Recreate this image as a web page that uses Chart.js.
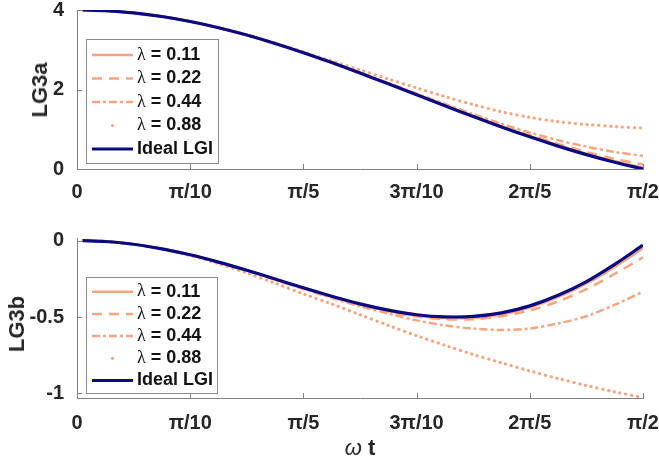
<!DOCTYPE html>
<html>
<head>
<meta charset="utf-8">
<script src="https://cdn.jsdelivr.net/npm/chart.js@4.4.1/dist/chart.umd.min.js"></script>
<style>
  html, body { margin: 0; padding: 0; background: #fff; }
  #wrap { position: relative; width: 659px; height: 463px; overflow: hidden;
          font-family: "Liberation Sans", Arial, Helvetica, sans-serif; color: #262626; }
  canvas { position: absolute; left: 0; }
  #cA { top: 0; }
  #cB { top: 215px; }
  .lab { position: absolute; white-space: nowrap; font-weight: bold; font-size: 22px; line-height: 1; }
  .rot { transform: translate(-50%, -50%) rotate(-90deg); }
</style>
</head>
<body>
<div id="wrap">
  <canvas id="cA" width="659" height="215"></canvas>
  <canvas id="cB" width="659" height="248"></canvas>
  <div class="lab rot" style="left:40px; top:90px;">LG3a</div>
  <div class="lab rot" style="left:17px; top:324px;">LG3b</div>
  <div class="lab" style="left:360px; top:448px; transform:translate(-50%,-50%);"><span style="font-weight:normal; font-style:italic;">ω</span> t</div>
</div>
<script>
// ωt sample positions, in units of π
const wt = [0.005, 0.025, 0.05, 0.075, 0.1, 0.125, 0.15, 0.175, 0.2, 0.225, 0.25,
            0.275, 0.3, 0.325, 0.35, 0.375, 0.4, 0.425, 0.45, 0.475, 0.5];

const xTickValues = [0, 0.1, 0.2, 0.3, 0.4, 0.5];
const xTickLabels = ['0', 'π/10', 'π/5', '3π/10', '2π/5', 'π/2'];
const lg3aTicks = [0, 2, 4];
const lg3bTicks = [-1, -0.5, 0];

const lambdas = ['0.11', '0.22', '0.44', '0.88'];

// LG3a
const lg3a_l011  = [4.000, 3.982, 3.926, 3.836, 3.711, 3.555, 3.370, 3.159, 2.927, 2.677, 2.414,
                    2.148, 1.877, 1.603, 1.335, 1.076, 0.829, 0.598, 0.386, 0.196, 0.030];
const lg3a_l022  = [4.000, 3.982, 3.926, 3.836, 3.711, 3.555, 3.370, 3.159, 2.927, 2.677, 2.419,
                    2.153, 1.882, 1.613, 1.350, 1.093, 0.854, 0.631, 0.427, 0.254, 0.110];
const lg3a_l044  = [4.000, 3.982, 3.926, 3.836, 3.711, 3.555, 3.370, 3.159, 2.932, 2.687, 2.429,
                    2.163, 1.897, 1.636, 1.380, 1.138, 0.919, 0.726, 0.562, 0.429, 0.330];
const lg3a_l088  = [4.000, 3.982, 3.927, 3.837, 3.713, 3.558, 3.375, 3.167, 2.945, 2.715, 2.490,
                    2.262, 2.040, 1.822, 1.620, 1.440, 1.300, 1.190, 1.120, 1.068, 1.030];
const lg3a_ideal = [4.000, 3.982, 3.926, 3.836, 3.711, 3.555, 3.370, 3.159, 2.927, 2.677, 2.414,
                    2.143, 1.867, 1.591, 1.320, 1.058, 0.809, 0.576, 0.362, 0.169, 0.000];

// LG3b
const lg3b_l011  = [0.000, -0.006, -0.024, -0.054, -0.093, -0.141, -0.194, -0.253, -0.312, -0.368, -0.419,
                    -0.461, -0.492, -0.507, -0.505, -0.483, -0.438, -0.370, -0.282, -0.172, -0.050];
const lg3b_l022  = [0.000, -0.006, -0.024, -0.054, -0.094, -0.142, -0.196, -0.254, -0.314, -0.370, -0.422,
                    -0.465, -0.497, -0.514, -0.514, -0.495, -0.457, -0.398, -0.318, -0.218, -0.110];
const lg3b_l044  = [0.000, -0.006, -0.024, -0.055, -0.095, -0.143, -0.198, -0.257, -0.317, -0.375, -0.430,
                    -0.477, -0.522, -0.555, -0.576, -0.585, -0.575, -0.542, -0.495, -0.420, -0.335];
const lg3b_l088  = [0.000, -0.006, -0.025, -0.056, -0.098, -0.151, -0.212, -0.279, -0.349, -0.415, -0.485,
                    -0.555, -0.622, -0.685, -0.745, -0.800, -0.853, -0.903, -0.948, -0.990, -1.027];
const lg3b_ideal = [0.000, -0.006, -0.024, -0.054, -0.093, -0.141, -0.194, -0.251, -0.309, -0.364, -0.414,
                    -0.455, -0.485, -0.499, -0.496, -0.473, -0.427, -0.358, -0.268, -0.155, -0.030];

const SALMON = '#F4A582';
const NAVY = '#0A0A80';
const SANS = '"Liberation Sans", Arial, Helvetica, sans-serif';
const INK = '#262626';

const lineStyles = [
  { dash: [],            cap: 'butt',  width: 2.5 },   // solid
  { dash: [10, 7],       cap: 'butt',  width: 2.5 },   // dashed
  { dash: [8, 3, 3, 3],  cap: 'butt',  width: 2.5 },   // dash-dot
  { dash: [0.1, 5.8],    cap: 'round', width: 3.2 }    // dotted
];

function series(label, ys, color, width, style, order) {
  return {
    label,
    data: wt.map((x, i) => ({ x, y: ys[i] })),
    borderColor: color,
    borderWidth: width,
    borderDash: style.dash,
    borderCapStyle: style.cap,
    pointRadius: 0,
    pointHoverRadius: 0,
    fill: false,
    tension: 0.3,
    order
  };
}

function buildDatasets(l011, l022, l044, l088, ideal) {
  const sets = [l011, l022, l044, l088];
  const out = sets.map((ys, i) => series('λ = ' + lambdas[i], ys, SALMON, lineStyles[i].width, lineStyles[i], i + 1));
  out.push(series('Ideal LGI', ideal, NAVY, 3.2, lineStyles[0], 0));
  return out;
}

// small tick marks pointing into the plot area
const inwardTicks = {
  id: 'inwardTicks',
  afterDatasetsDraw(chart) {
    const { ctx, chartArea: a } = chart;
    const xs = chart.scales.x, ys = chart.scales.y;
    ctx.save();
    ctx.strokeStyle = '#808080';
    ctx.lineWidth = 1;
    ctx.beginPath();
    xs.ticks.forEach(t => {
      const px = Math.round(xs.getPixelForValue(t.value)) + 0.5;
      ctx.moveTo(px, a.bottom);
      ctx.lineTo(px, a.bottom - 5);
    });
    ys.ticks.forEach(t => {
      const py = Math.round(ys.getPixelForValue(t.value)) + 0.5;
      ctx.moveTo(a.left, py);
      ctx.lineTo(a.left + 5, py);
    });
    ctx.stroke();
    ctx.restore();
  }
};

// boxed legend inside the plot area
const boxLegend = {
  id: 'boxLegend',
  afterDraw(chart, args, o) {
    const ctx = chart.ctx;
    ctx.save();
    ctx.fillStyle = '#fff';
    ctx.fillRect(o.x, o.y, o.w, o.h);
    ctx.strokeStyle = '#8c8c8c';
    ctx.lineWidth = 1;
    ctx.strokeRect(o.x + 0.5, o.y + 0.5, o.w, o.h);
    chart.data.datasets.forEach((ds, i) => {
      const cy = o.y + o.first + i * o.row;
      ctx.strokeStyle = ds.borderColor;
      ctx.fillStyle = ds.borderColor;
      ctx.lineWidth = ds.borderWidth;
      if (ds.borderCapStyle === 'round') {
        ctx.beginPath();
        ctx.arc((o.x0 + o.x1) / 2, cy, ds.borderWidth / 2, 0, Math.PI * 2);
        ctx.fill();
      } else {
        ctx.setLineDash(ds.borderDash || []);
        ctx.lineCap = 'butt';
        ctx.beginPath();
        ctx.moveTo(o.x0, cy);
        ctx.lineTo(o.x1, cy);
        ctx.stroke();
        ctx.setLineDash([]);
      }
      ctx.fillStyle = '#111';
      ctx.textBaseline = 'middle';
      ctx.textAlign = 'left';
      let tx = o.tx;
      let text = ds.label;
      if (text.startsWith('λ')) {
        ctx.font = '18px "Liberation Serif", "DejaVu Serif", serif';
        ctx.fillText('λ', tx, cy);
        tx += ctx.measureText('λ').width;
        text = text.slice(1);
      }
      ctx.font = 'bold 18px ' + SANS;
      ctx.fillText(text, tx, cy);
    });
    ctx.restore();
  }
};

function makeChart(id, datasets, yMin, yMax, yTicks, pad, xAxisH, labelPad, legend) {
  return new Chart(document.getElementById(id), {
    type: 'line',
    data: { datasets },
    plugins: [inwardTicks, boxLegend],
    options: {
      responsive: false,
      animation: false,
      devicePixelRatio: 1,
      layout: { padding: pad },
      plugins: {
        legend: { display: false },
        tooltip: { enabled: false },
        boxLegend: legend
      },
      scales: {
        x: {
          type: 'linear',
          min: 0, max: 0.5,
          grid: { display: false },
          border: { display: true, color: '#808080', width: 1 },
          afterBuildTicks: s => { s.ticks = xTickValues.map(v => ({ value: v })); },
          afterFit: s => { s.height = xAxisH; s.paddingLeft = 0; s.paddingRight = 0; },
          ticks: {
            autoSkip: false, maxRotation: 0, minRotation: 0,
            padding: labelPad,
            color: INK,
            font: { family: SANS, size: 20, weight: 'bold' },
            callback: (v, i) => xTickLabels[i]
          }
        },
        y: {
          min: yMin, max: yMax,
          grid: { display: false },
          border: { display: true, color: '#808080', width: 1 },
          afterBuildTicks: s => { s.ticks = yTicks.map(v => ({ value: v })); },
          afterFit: s => { s.width = 77; s.paddingTop = 0; s.paddingBottom = 0; },
          ticks: {
            padding: 5,
            color: INK,
            font: { family: SANS, size: 20, weight: 'bold' },
            callback: v => String(v)
          }
        }
      }
    }
  });
}

makeChart('cA',
  buildDatasets(lg3a_l011, lg3a_l022, lg3a_l044, lg3a_l088, lg3a_ideal),
  0, 4, lg3aTicks,
  { top: 10, right: 16, left: 0, bottom: 0 }, 46, 3,
  { x: 86, y: 39, w: 132, h: 124, first: 16, row: 23.5, x0: 92, x1: 133, tx: 137 });

makeChart('cB',
  buildDatasets(lg3b_l011, lg3b_l022, lg3b_l044, lg3b_l088, lg3b_ideal),
  -1.03, 0.017, lg3bTicks,
  { top: 23, right: 16, left: 0, bottom: 0 }, 65, 5,
  { x: 86, y: 62, w: 131, h: 116, first: 14.7, row: 22.2, x0: 92, x1: 133, tx: 137 });
</script>
</body>
</html>
